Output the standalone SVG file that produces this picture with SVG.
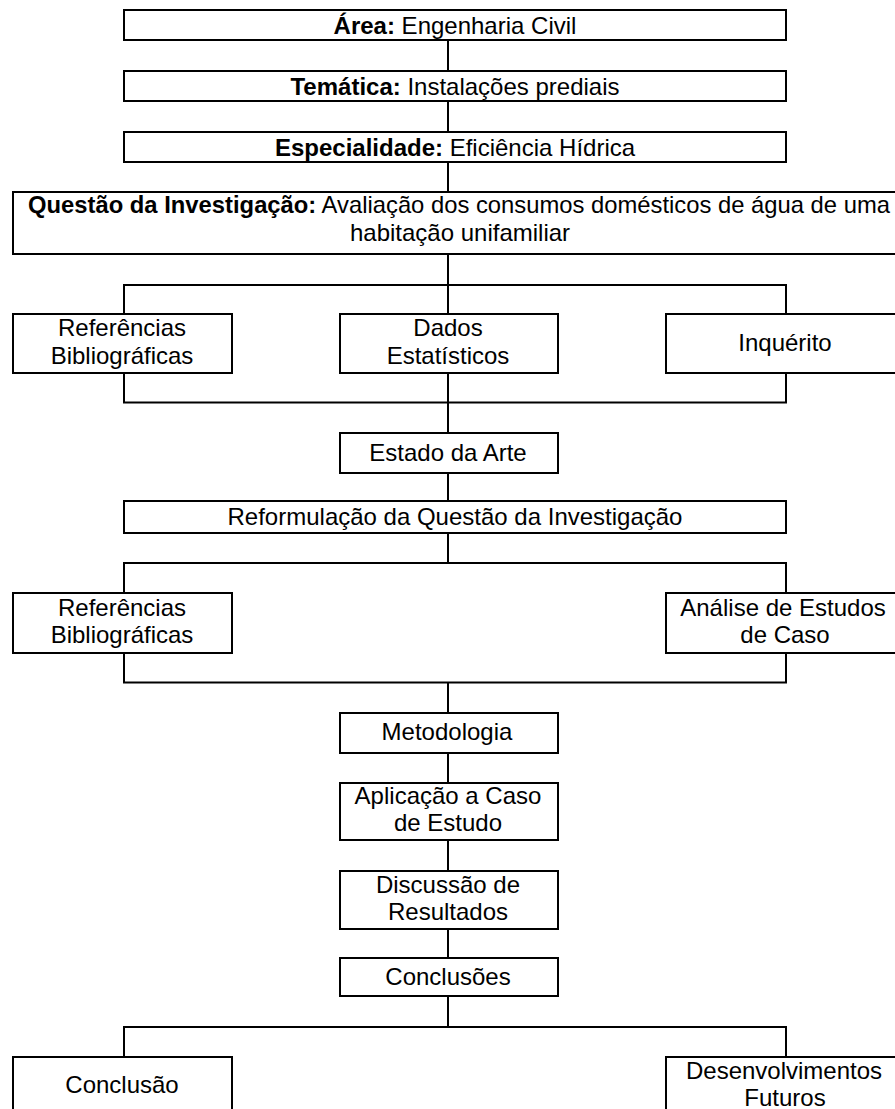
<svg xmlns="http://www.w3.org/2000/svg" width="895" height="1109" viewBox="0 0 895 1109">
<style>
.box{fill:#fff;stroke:#000;stroke-width:2}
.t{font-family:"Liberation Sans",Arial,sans-serif;font-size:24px;fill:#000;text-anchor:middle}
.s{text-anchor:start}
.b{font-weight:bold}
.c{fill:none;stroke:#000;stroke-width:2}
</style>
<rect width="895" height="1109" fill="#fff"/>
<g id="connectors" class="c">
<path d="M448 40V71M448 101V132M448 162V192M448 254V314"/>
<path d="M124 314V285H786V314"/>
<path d="M124 373V402.5H786V373M448 373V433"/>
<path d="M448 473V501M448 533V563"/>
<path d="M124 593V563H786V593"/>
<path d="M124 653V682.5H786V653M448 682.5V713"/>
<path d="M448 753V783M448 840V871M448 929V958M448 996V1027"/>
<path d="M124 1057V1027H786V1057"/>
</g>
<g id="area"><rect class="box" x="124" y="10" width="662" height="30"/><text class="t" x="455" y="33.5"><tspan class="b">Área:</tspan> Engenharia Civil</text></g>
<g id="tematica"><rect class="box" x="124" y="71" width="662" height="30"/><text class="t" x="455" y="94.5"><tspan class="b">Temática:</tspan> Instalações prediais</text></g>
<g id="especialidade"><rect class="box" x="124" y="132" width="662" height="30"/><text class="t" x="455" y="155.5"><tspan class="b">Especialidade:</tspan> Eficiência Hídrica</text></g>
<g id="questao"><rect class="box" x="13" y="192" width="900" height="62"/><text class="t s" x="28" y="213" textLength="862" lengthAdjust="spacingAndGlyphs"><tspan class="b">Questão da Investigação:</tspan> Avaliação dos consumos domésticos de água de uma</text><text class="t" x="460" y="241">habitação unifamiliar</text></g>
<g id="ref1"><rect class="box" x="13" y="314" width="219" height="59"/><text class="t" x="122" y="336">Referências</text><text class="t" x="122" y="363.5">Bibliográficas</text></g>
<g id="dados"><rect class="box" x="340" y="314" width="218" height="59"/><text class="t" x="448" y="336">Dados</text><text class="t" x="448" y="363.5">Estatísticos</text></g>
<g id="inquerito"><rect class="box" x="666" y="314" width="240" height="59"/><text class="t" x="785" y="351">Inquérito</text></g>
<g id="estado"><rect class="box" x="340" y="433" width="218" height="40"/><text class="t" x="448" y="461">Estado da Arte</text></g>
<g id="reformulacao"><rect class="box" x="124" y="501" width="662" height="32"/><text class="t" x="455" y="525">Reformulação da Questão da Investigação</text></g>
<g id="ref2"><rect class="box" x="13" y="593" width="219" height="60"/><text class="t" x="122" y="615.5">Referências</text><text class="t" x="122" y="643">Bibliográficas</text></g>
<g id="analise"><rect class="box" x="666" y="593" width="240" height="60"/><text class="t" x="783" y="615.5">Análise de Estudos</text><text class="t" x="785" y="643">de Caso</text></g>
<g id="metodologia"><rect class="box" x="340" y="713" width="218" height="40"/><text class="t" x="447" y="740">Metodologia</text></g>
<g id="aplicacao"><rect class="box" x="340" y="783" width="218" height="57"/><text class="t" x="448" y="804">Aplicação a Caso</text><text class="t" x="448" y="831">de Estudo</text></g>
<g id="discussao"><rect class="box" x="340" y="871" width="218" height="58"/><text class="t" x="448" y="892.5">Discussão de</text><text class="t" x="448" y="920">Resultados</text></g>
<g id="conclusoes"><rect class="box" x="340" y="958" width="218" height="38"/><text class="t" x="448" y="985">Conclusões</text></g>
<g id="conclusao"><rect class="box" x="13" y="1057" width="219" height="70"/><text class="t" x="122" y="1093">Conclusão</text></g>
<g id="desenvolvimentos"><rect class="box" x="666" y="1057" width="240" height="70"/><text class="t" x="784" y="1079">Desenvolvimentos</text><text class="t" x="785" y="1106">Futuros</text></g>
</svg>
